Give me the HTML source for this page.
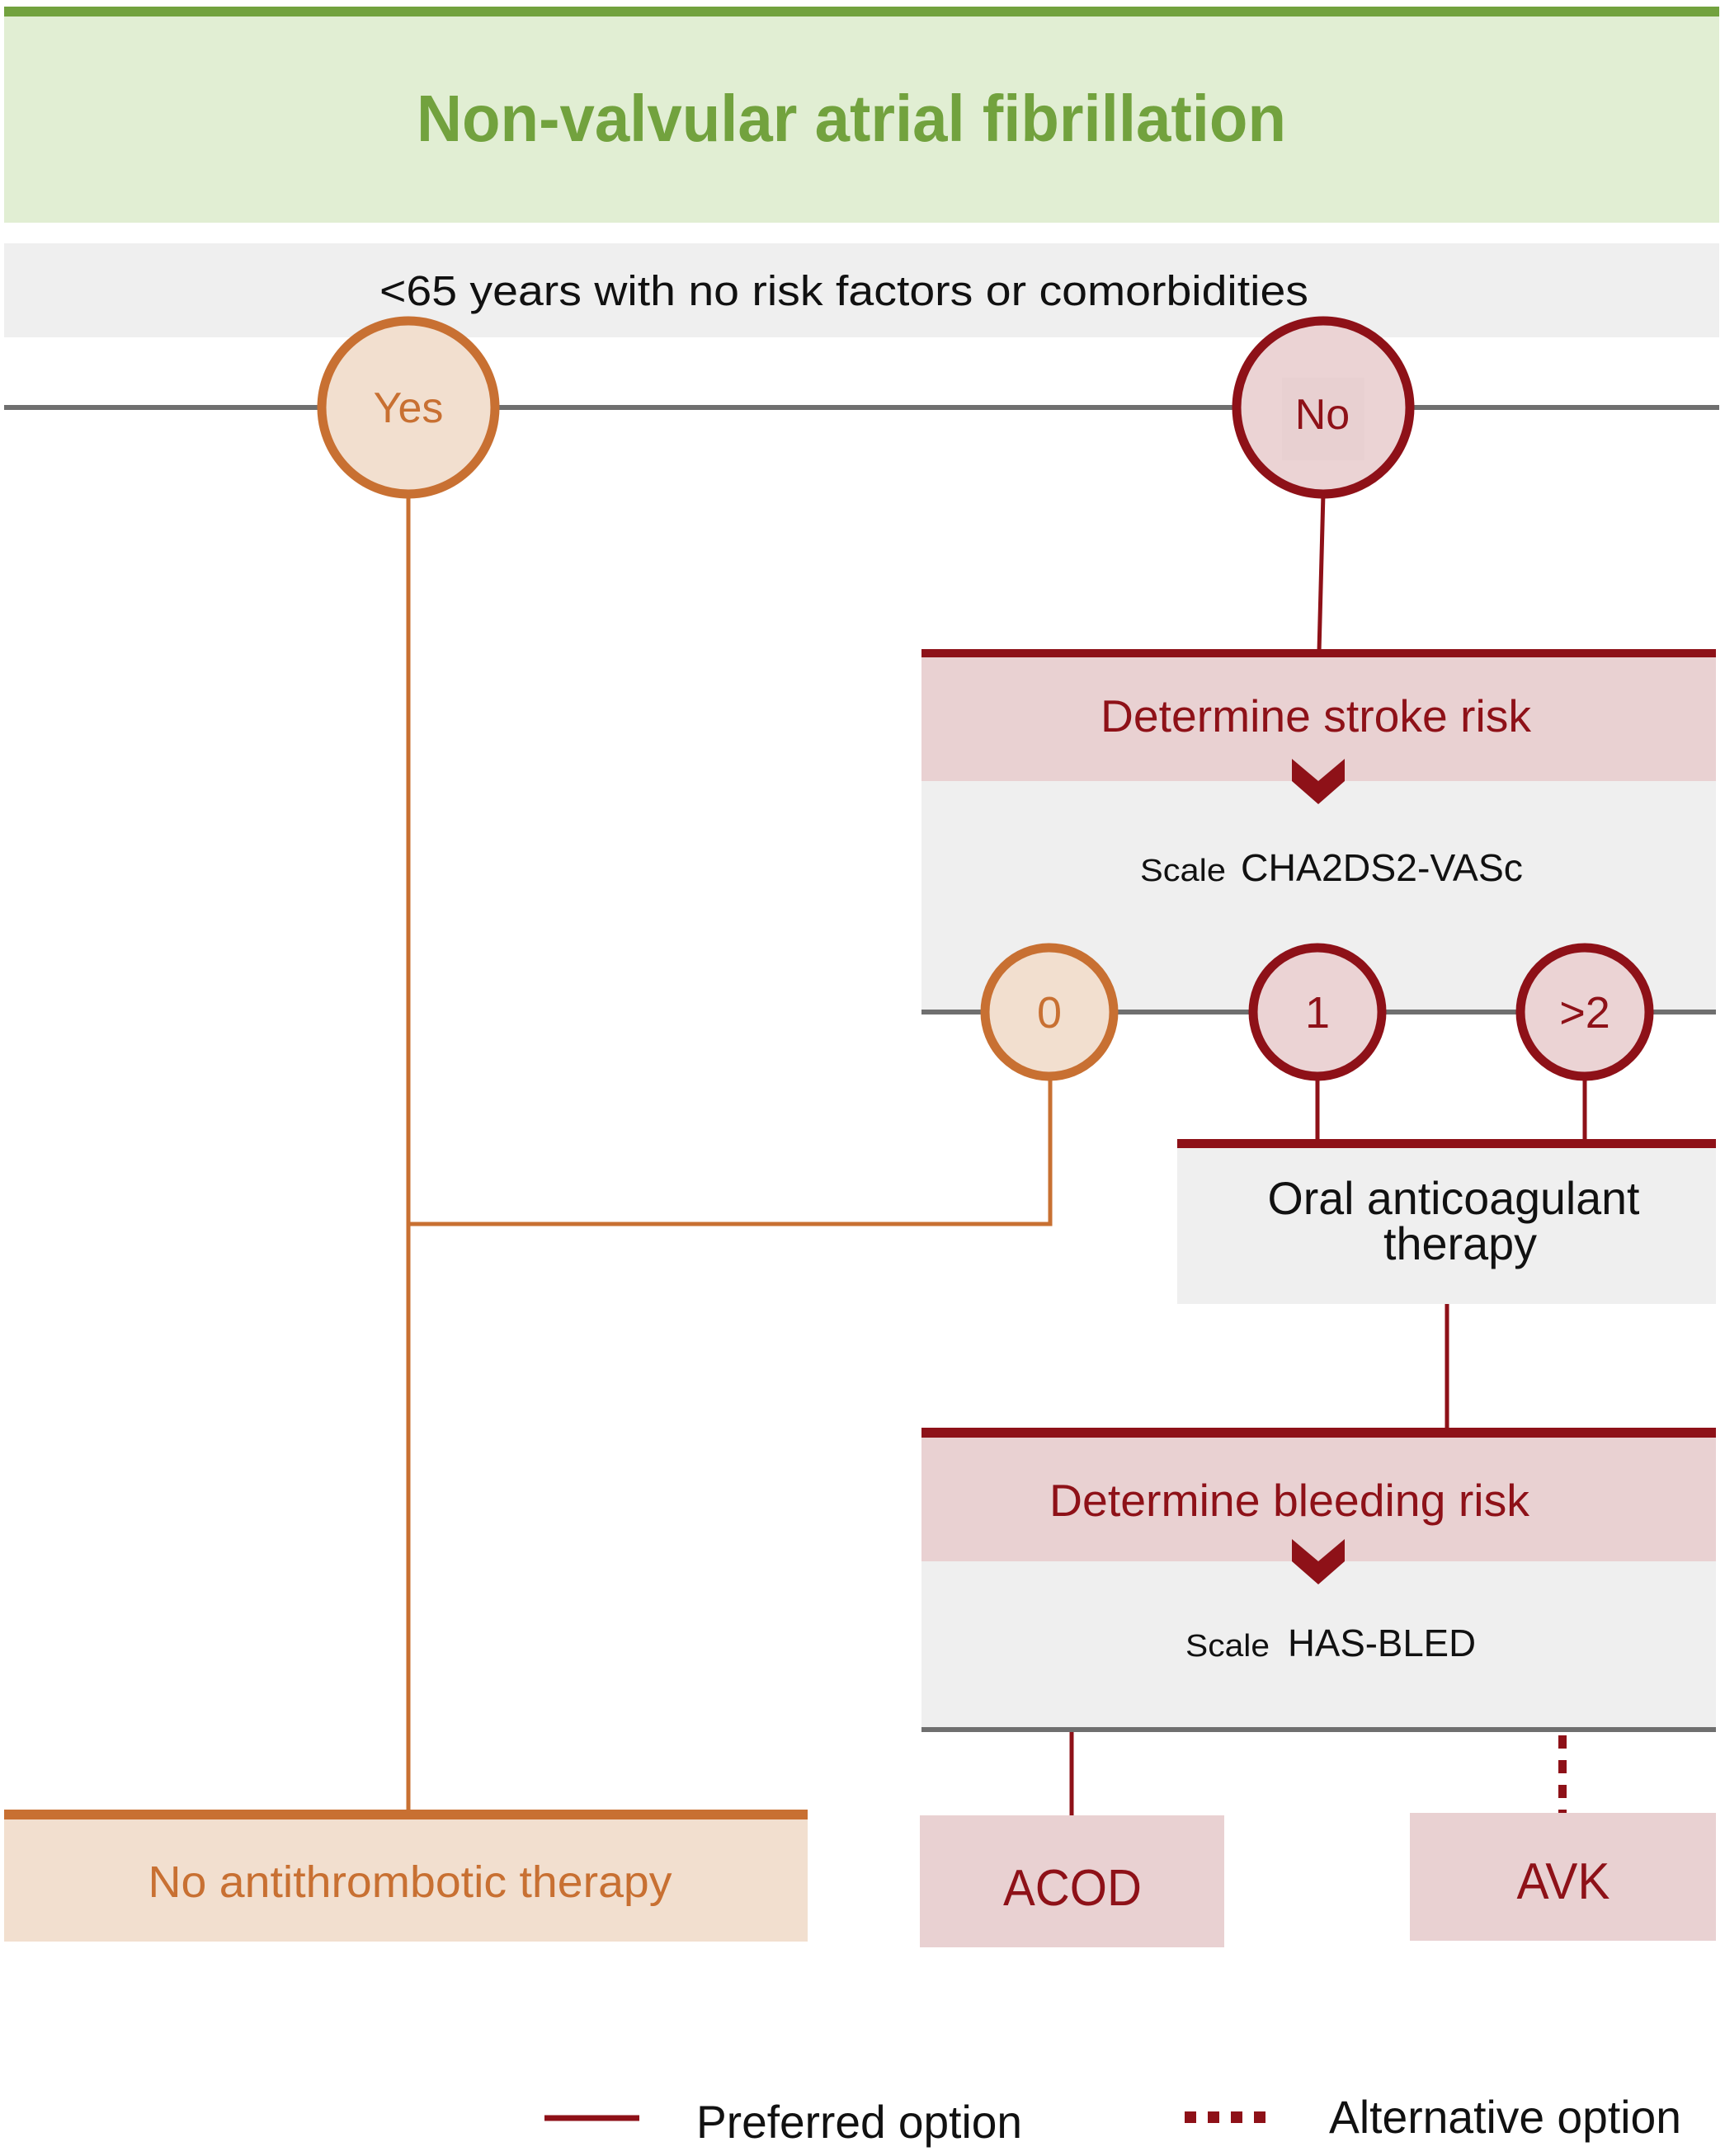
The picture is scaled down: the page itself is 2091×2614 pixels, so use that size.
<!DOCTYPE html>
<html><head><meta charset="utf-8"><style>html,body{margin:0;padding:0;background:#fff}svg{display:block}</style></head>
<body>
<svg width="2091" height="2614" viewBox="0 0 2091 2614" xmlns="http://www.w3.org/2000/svg" font-family="'Liberation Sans', sans-serif">
<rect x="5" y="8" width="2079" height="262" fill="#e1eed3"/>
<rect x="5" y="8" width="2079" height="12" fill="#72a23e"/>
<text x="1032" y="171" font-size="80" font-weight="bold" fill="#72a23e" text-anchor="middle" textLength="1054" lengthAdjust="spacingAndGlyphs">Non-valvular atrial fibrillation</text>
<rect x="5" y="295" width="2079" height="114" fill="#efefef"/>
<text x="1023" y="370" font-size="51" fill="#111" text-anchor="middle" textLength="1126" lengthAdjust="spacingAndGlyphs">&lt;65 years with no risk factors or comorbidities</text>
<line x1="5" y1="494" x2="2084" y2="494" stroke="#6f6f6f" stroke-width="6"/>
<line x1="495" y1="598" x2="495" y2="2196" stroke="#c87032" stroke-width="5"/>
<polyline points="1273,1305 1273,1484 495,1484" fill="none" stroke="#c87032" stroke-width="5"/>
<line x1="1604" y1="598" x2="1599" y2="790" stroke="#8e1118" stroke-width="5"/>
<circle cx="495" cy="494" r="105" fill="#f2dfcf" stroke="#c87032" stroke-width="11"/>
<text x="495" y="512" font-size="52" fill="#c87032" text-anchor="middle">Yes</text>
<circle cx="1604" cy="494" r="105" fill="#ebd3d4" stroke="#8e1118" stroke-width="11"/>
<rect x="1554" y="458" width="100" height="100" fill="#e8d0d1"/>
<text x="1603" y="520" font-size="52" fill="#8e1118" text-anchor="middle">No</text>
<rect x="1117" y="797" width="963" height="150" fill="#e9d1d2"/>
<rect x="1117" y="947" width="963" height="279" fill="#efefef"/>
<rect x="1117" y="787" width="963" height="10" fill="#8e1118"/>
<text x="1595" y="887" font-size="55" fill="#8e1118" text-anchor="middle" textLength="522" lengthAdjust="spacingAndGlyphs">Determine stroke risk</text>
<polygon points="1566,920 1598,947 1630,920 1630,947 1598,975 1566,947" fill="#8e1118"/>
<text x="1382" y="1068" font-size="38" fill="#111" textLength="104" lengthAdjust="spacingAndGlyphs">Scale</text>
<text x="1504" y="1068" font-size="46" fill="#111" textLength="342" lengthAdjust="spacingAndGlyphs">CHA2DS2-VASc</text>
<line x1="1117" y1="1227" x2="2080" y2="1227" stroke="#6f6f6f" stroke-width="6"/>
<line x1="1597" y1="1300" x2="1597" y2="1384" stroke="#8e1118" stroke-width="5"/>
<line x1="1921" y1="1300" x2="1921" y2="1384" stroke="#8e1118" stroke-width="5"/>
<circle cx="1272" cy="1227" r="78" fill="#f2dfcf" stroke="#c87032" stroke-width="11"/>
<text x="1272" y="1246" font-size="54" fill="#c87032" text-anchor="middle">0</text>
<circle cx="1597" cy="1227" r="78" fill="#ebd3d4" stroke="#8e1118" stroke-width="11"/>
<text x="1597" y="1246" font-size="54" fill="#8e1118" text-anchor="middle">1</text>
<circle cx="1921" cy="1227" r="78" fill="#ebd3d4" stroke="#8e1118" stroke-width="11"/>
<text x="1921" y="1246" font-size="54" fill="#8e1118" text-anchor="middle">&gt;2</text>
<rect x="1427" y="1392" width="653" height="189" fill="#efefef"/>
<rect x="1427" y="1381" width="653" height="11" fill="#8e1118"/>
<text x="1762" y="1472" font-size="56" fill="#111" text-anchor="middle" textLength="451" lengthAdjust="spacingAndGlyphs">Oral anticoagulant</text>
<text x="1770" y="1527" font-size="56" fill="#111" text-anchor="middle" textLength="186" lengthAdjust="spacingAndGlyphs">therapy</text>
<line x1="1754" y1="1581" x2="1754" y2="1734" stroke="#8e1118" stroke-width="5"/>
<rect x="1117" y="1743" width="963" height="150" fill="#e9d1d2"/>
<rect x="1117" y="1893" width="963" height="203" fill="#efefef"/>
<rect x="1117" y="1731" width="963" height="12" fill="#8e1118"/>
<text x="1563" y="1838" font-size="55" fill="#8e1118" text-anchor="middle" textLength="582" lengthAdjust="spacingAndGlyphs">Determine bleeding risk</text>
<polygon points="1566,1866 1598,1893 1630,1866 1630,1893 1598,1921 1566,1893" fill="#8e1118"/>
<text x="1437" y="2008" font-size="38" fill="#111" textLength="102" lengthAdjust="spacingAndGlyphs">Scale</text>
<text x="1561" y="2008" font-size="46" fill="#111" textLength="228" lengthAdjust="spacingAndGlyphs">HAS-BLED</text>
<line x1="1117" y1="2097" x2="2080" y2="2097" stroke="#6f6f6f" stroke-width="6"/>
<line x1="1299" y1="2100" x2="1299" y2="2201" stroke="#8e1118" stroke-width="5"/>
<line x1="1894" y1="2104" x2="1894" y2="2198" stroke="#8e1118" stroke-width="10" stroke-dasharray="16,14"/>
<rect x="5" y="2204" width="974" height="150" fill="#f2dfcf"/>
<rect x="5" y="2194" width="974" height="12" fill="#c87032"/>
<text x="497" y="2300" font-size="54" fill="#c87032" text-anchor="middle" textLength="635" lengthAdjust="spacingAndGlyphs">No antithrombotic therapy</text>
<rect x="1115" y="2201" width="369" height="160" fill="#e9d1d2"/>
<text x="1300" y="2310" font-size="62" fill="#8e1118" text-anchor="middle" textLength="168" lengthAdjust="spacingAndGlyphs">ACOD</text>
<rect x="1709" y="2198" width="371" height="155" fill="#e9d1d2"/>
<text x="1895" y="2302" font-size="62" fill="#8e1118" text-anchor="middle" textLength="113" lengthAdjust="spacingAndGlyphs">AVK</text>
<line x1="660" y1="2568" x2="775" y2="2568" stroke="#8e1118" stroke-width="7"/>
<text x="844" y="2592" font-size="56" fill="#111" textLength="395" lengthAdjust="spacingAndGlyphs">Preferred option</text>
<line x1="1436" y1="2567" x2="1540" y2="2567" stroke="#8e1118" stroke-width="14" stroke-dasharray="14,14"/>
<text x="1611" y="2586" font-size="56" fill="#111" textLength="427" lengthAdjust="spacingAndGlyphs">Alternative option</text>
</svg>
</body></html>
